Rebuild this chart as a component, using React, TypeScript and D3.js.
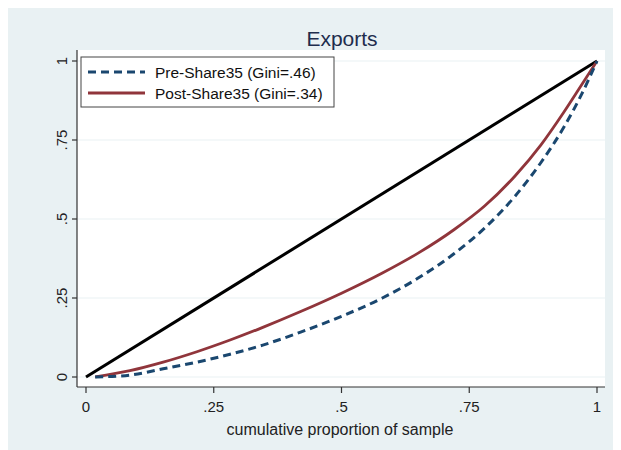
import React from "react";
import * as d3 from "d3";

// chart data
const ticks = [0, 0.25, 0.5, 0.75, 1];
const tickLabels = ["0", ".25", ".5", ".75", "1"];

const postX = [0.018, 0.086, 0.151, 0.217, 0.282, 0.346, 0.42, 0.5, 0.58, 0.65, 0.72, 0.78, 0.84, 0.89, 0.935, 0.97, 1];
const postY = [0, 0.02, 0.047, 0.08, 0.117, 0.157, 0.207, 0.265, 0.329, 0.392, 0.466, 0.541, 0.637, 0.734, 0.838, 0.925, 1];

const preX = [0.018, 0.086, 0.151, 0.217, 0.282, 0.346, 0.42, 0.5, 0.58, 0.65, 0.72, 0.78, 0.84, 0.89, 0.935, 0.97, 1];
const preY = [0, 0.006, 0.026, 0.047, 0.072, 0.101, 0.142, 0.192, 0.25, 0.313, 0.39, 0.471, 0.573, 0.678, 0.79, 0.895, 1];

const equalX = [0, 1];
const equalY = [0, 1];

const legendLabels = ["Pre-Share35 (Gini=.46)", "Post-Share35 (Gini=.34)"];

const W = 613;
const H = 442;
const FONT = "Arial, 'Liberation Sans', Helvetica, sans-serif";
const NAVY = "#1a476f";
const MAROON = "#90353b";

export default function App() {
  const x = d3.scaleLinear().domain([0, 1]).range([78, 589]);
  const y = d3.scaleLinear().domain([0, 1]).range([369, 53]);

  const line = d3
    .line<[number, number]>()
    .x((d) => x(d[0]))
    .y((d) => y(d[1]))
    .curve(d3.curveMonotoneX);

  const pts = (xs: number[], ys: number[]) => xs.map((v, i) => [v, ys[i]] as [number, number]);

  const plotLeft = 69;
  const plotRight = 597;
  const plotTop = 42;
  const plotBottom = 379;

  return (
    <svg width={W} height={H} style={{ display: "block" }} fontFamily={FONT}>
      <rect x={0} y={0} width={W} height={H} fill="#e9f1f3" />
      <rect x={plotLeft} y={plotTop} width={plotRight - plotLeft} height={plotBottom - plotTop} fill="#ffffff" />

      {/* grid */}
      {ticks.map((t) => (
        <line key={"g" + t} x1={plotLeft} x2={plotRight} y1={y(t)} y2={y(t)} stroke="#eaf2f3" strokeWidth={1.2} />
      ))}

      {/* title */}
      <text x={334} y={38} textAnchor="middle" fontSize={21} fill="#1e2d4d">
        Exports
      </text>

      {/* curves */}
      <path d={line(pts(equalX, equalY)) || ""} fill="none" stroke="#000" strokeWidth={3} />
      <path d={line(pts(postX, postY)) || ""} fill="none" stroke={MAROON} strokeWidth={2.8} />
      <path d={line(pts(preX, preY)) || ""} fill="none" stroke={NAVY} strokeWidth={3} strokeDasharray="8,5" />

      {/* axes */}
      <line x1={plotLeft} x2={plotLeft} y1={plotTop} y2={plotBottom} stroke="#333" strokeWidth={1.2} />
      <line x1={plotLeft} x2={plotRight} y1={plotBottom} y2={plotBottom} stroke="#333" strokeWidth={1.2} />
      {ticks.map((t, i) => (
        <g key={"y" + t}>
          <line x1={plotLeft - 5} x2={plotLeft} y1={y(t)} y2={y(t)} stroke="#333" strokeWidth={1.2} />
          <text
            transform={`translate(${plotLeft - 10},${y(t)}) rotate(-90)`}
            textAnchor="middle"
            fontSize={15}
            fill="#222"
          >
            {tickLabels[i]}
          </text>
        </g>
      ))}
      {ticks.map((t, i) => (
        <g key={"x" + t}>
          <line x1={x(t)} x2={x(t)} y1={plotBottom} y2={plotBottom + 6} stroke="#333" strokeWidth={1.2} />
          <text x={x(t)} y={plotBottom + 25} textAnchor="middle" fontSize={15} fill="#222">
            {tickLabels[i]}
          </text>
        </g>
      ))}
      <text x={332} y={427} textAnchor="middle" fontSize={16} fill="#222">
        cumulative proportion of sample
      </text>

      {/* legend */}
      <rect x={73} y={49} width={253} height={50} fill="#fff" stroke="#444" strokeWidth={1} />
      <line x1={80} x2={137} y1={64} y2={64} stroke={NAVY} strokeWidth={3} strokeDasharray="8,5" />
      <line x1={80} x2={137} y1={85} y2={85} stroke={MAROON} strokeWidth={3} />
      <text x={147} y={69.5} fontSize={15.5} fill="#111">
        {legendLabels[0]}
      </text>
      <text x={147} y={90.5} fontSize={15.5} fill="#111">
        {legendLabels[1]}
      </text>
    </svg>
  );
}
